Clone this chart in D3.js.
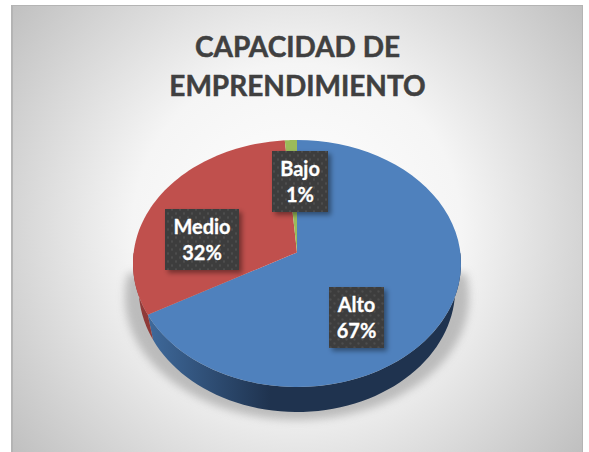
<!DOCTYPE html>
<html>
<head>
<meta charset="utf-8"/>
<title>Capacidad de emprendimiento</title>
<style>
html, body { margin: 0; padding: 0; background: #ffffff; }
svg { display: block; }
text { font-family: Lato, "Open Sans", sans-serif; font-weight: 700; }
</style>
</head>
<body>
<script src="https://cdn.jsdelivr.net/npm/d3@7"></script>
<script>
'use strict';
const categories = ['Alto', 'Medio', 'Bajo'];
const shares = [66.9, 31.8, 1.3];
const percentLabels = ['67%', '32%', '1%'];
const titleLines = ['CAPACIDAD DE', 'EMPRENDIMIENTO'];

const width = 589, height = 452;

// top face ellipse, the apex sits above its middle because of the 3D tilt
const cx = 297, cy = 263.5, rx = 164, ry = 123.5;
const tilt = -0.09;
const depth = 25;
const baseScale = 0.965;	// the bottom rim looks narrower than the top one

// label box centres and sizes, in page pixels
const boxes = {
	Alto: {x: 356.5, y: 317.5, w: 55},
	Medio: {x: 202, y: 239.5, w: 74},
	Bajo: {x: 300, y: 181.5, w: 56}
};
const boxHeight = 61;

const fillColor = d3.scaleOrdinal().domain(categories).range(['#4f81bd', '#c0504d', '#9bbb59']);

const svg = d3.select('body').append('svg')
	.attr('width', width)
	.attr('height', height);

const defs = svg.append('defs');

const bg = defs.append('radialGradient')
	.attr('id', 'bg')
	.attr('gradientUnits', 'userSpaceOnUse')
	.attr('cx', 297).attr('cy', 228).attr('r', 365);
bg.append('stop').attr('offset', '0').attr('stop-color', '#ffffff');
bg.append('stop').attr('offset', '0.45').attr('stop-color', '#f5f5f5');
bg.append('stop').attr('offset', '1').attr('stop-color', '#bfbfbf');

const wallBlue = defs.append('linearGradient')
	.attr('id', 'wallBlue')
	.attr('gradientUnits', 'userSpaceOnUse')
	.attr('x1', 147).attr('x2', 270).attr('y1', 0).attr('y2', 0);
wallBlue.append('stop').attr('offset', '0').attr('stop-color', '#3f6a9c');
wallBlue.append('stop').attr('offset', '1').attr('stop-color', '#1f334f');

defs.append('filter').attr('id', 'blur')
	.attr('x', '-20%').attr('y', '-20%').attr('width', '140%').attr('height', '140%')
	.append('feGaussianBlur').attr('stdDeviation', 4);

const boxShadow = defs.append('filter').attr('id', 'boxShadow')
	.attr('x', '-30%').attr('y', '-30%').attr('width', '170%').attr('height', '170%');
boxShadow.append('feDropShadow')
	.attr('dx', 3).attr('dy', 3).attr('stdDeviation', 2.5)
	.attr('flood-color', '#000000').attr('flood-opacity', 0.4);

const dots = defs.append('pattern')
	.attr('id', 'dots')
	.attr('patternUnits', 'userSpaceOnUse')
	.attr('width', 8).attr('height', 8);
dots.append('rect').attr('width', 8).attr('height', 8).attr('fill', '#3d3d3d');
dots.append('circle').attr('cx', 2).attr('cy', 2).attr('r', 0.9).attr('fill', '#565656');
dots.append('circle').attr('cx', 6).attr('cy', 6).attr('r', 0.9).attr('fill', '#565656');

// panel
svg.append('rect')
	.attr('x', 11).attr('y', 5)
	.attr('width', 572).attr('height', 447)
	.attr('fill', '#b4b4b4');
svg.append('rect')
	.attr('x', 13).attr('y', 6)
	.attr('width', 569).attr('height', 446)
	.attr('fill', 'url(#bg)');

// title
svg.append('g').selectAll('text')
	.data(titleLines)
	.enter()
	.append('text')
	.attr('x', 297.5)
	.attr('y', function(d, i) { return 57 + i * 39; })
	.attr('text-anchor', 'middle')
	.attr('font-size', 28)
	.attr('fill', '#404040')
	.attr('stroke', '#404040')
	.attr('stroke-width', 0.5)
	.text(function(d) { return d; });

// maps a pie angle (clockwise from the top, radians) onto the tilted ellipse
function project(a, r) {
	const u = Math.sin(a) * r, v = -Math.cos(a) * r;
	const w = 1 + tilt * v;
	return [cx + rx * u * Math.sqrt(1 - tilt * tilt) / w, cy + ry * (v + tilt) / w];
}

const line = d3.line();

function sweep(a0, a1) {
	return d3.range(0, 61).map(function(i) { return a0 + (a1 - a0) * i / 60; });
}

const arcs = d3.pie().sort(null)(shares).map(function(d, i) {
	return {name: categories[i], label: percentLabels[i], a0: d.startAngle, a1: d.endAngle};
});

// soft shadow around the front half
const front0 = Math.PI / 2, front1 = Math.PI * 1.5;
const shadowPts = sweep(front0 - 0.1, front1 + 0.1).map(function(a) {
	const p = project(a, 1);
	return [cx + (p[0] - cx) * 1.05, p[1] + depth + 8];
});
svg.append('path')
	.attr('d', line(shadowPts) + 'Z')
	.attr('fill', '#a6a6a6')
	.attr('opacity', 0.7)
	.attr('filter', 'url(#blur)');

// side wall, only the slices that face the viewer
const wallColor = {Alto: 'url(#wallBlue)', Medio: '#8f3a38', Bajo: '#6f8840'};
svg.append('g').selectAll('path')
	.data(arcs.filter(function(d) { return d.a1 > front0 && d.a0 < front1; }))
	.enter()
	.append('path')
	.attr('fill', function(d) { return wallColor[d.name]; })
	.attr('d', function(d) {
		const top = sweep(Math.max(d.a0, front0), Math.min(d.a1, front1)).map(function(a) { return project(a, 1); });
		const bottom = top.map(function(p) { return [cx + (p[0] - cx) * baseScale, p[1] + depth]; }).reverse();
		return line(top.concat(bottom)) + 'Z';
	});

// top face
svg.append('g').selectAll('path')
	.data(arcs)
	.enter()
	.append('path')
	.attr('fill', function(d) { return fillColor(d.name); })
	.attr('d', function(d) {
		return line([project(0, 0)].concat(sweep(d.a0, d.a1).map(function(a) { return project(a, 1); }))) + 'Z';
	});

// data labels
const labels = svg.append('g').selectAll('g')
	.data(arcs)
	.enter()
	.append('g')
	.attr('transform', function(d) { return 'translate(' + boxes[d.name].x + ',' + boxes[d.name].y + ')'; });

labels.append('rect')
	.attr('x', function(d) { return -boxes[d.name].w / 2; })
	.attr('y', -boxHeight / 2)
	.attr('width', function(d) { return boxes[d.name].w; })
	.attr('height', boxHeight)
	.attr('fill', 'url(#dots)')
	.attr('filter', 'url(#boxShadow)');

labels.append('text')
	.attr('text-anchor', 'middle')
	.attr('y', -6)
	.attr('font-size', 20)
	.attr('fill', '#ffffff')
	.attr('stroke', '#ffffff')
	.attr('stroke-width', 0.3)
	.text(function(d) { return d.name; });

labels.append('text')
	.attr('text-anchor', 'middle')
	.attr('y', 20.5)
	.attr('font-size', 20)
	.attr('fill', '#ffffff')
	.attr('stroke', '#ffffff')
	.attr('stroke-width', 0.3)
	.text(function(d) { return d.label; });
</script>
</body>
</html>
